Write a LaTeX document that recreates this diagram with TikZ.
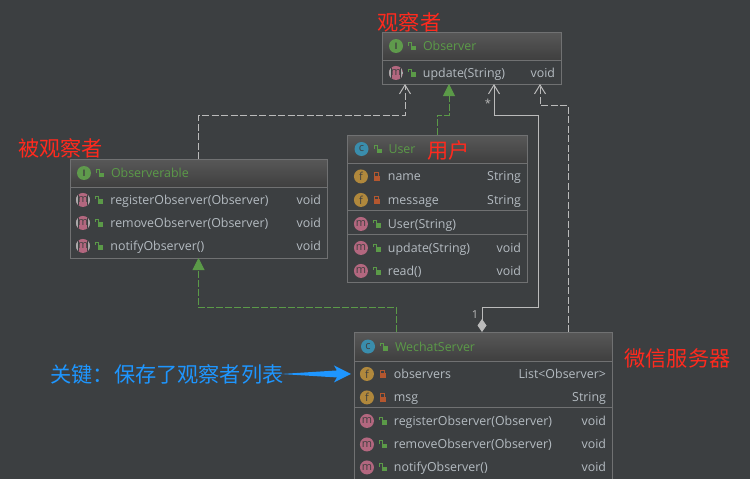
\documentclass[tikz,border=0pt]{standalone}
\usepackage{fontspec}
\setmainfont{Open Sans}
\newfontfamily\cjk{Noto Sans CJK SC}
\usetikzlibrary{arrows.meta,positioning}

\definecolor{ide_bg}{HTML}{3C3F41}
\definecolor{ide_line}{HTML}{707172}
\definecolor{ide_top}{HTML}{585858}
\definecolor{ide_low}{HTML}{3F3F3F}
\definecolor{ide_text}{HTML}{B4BBC1}
\definecolor{ide_green}{HTML}{5B9A48}
\definecolor{ide_arrow}{HTML}{BBBBBB}
\definecolor{lock_red}{HTML}{B4572F}
\definecolor{icon_m}{HTML}{B3677F}
\definecolor{icon_f}{HTML}{B0883C}
\definecolor{icon_c}{HTML}{3A8DAC}
\definecolor{icon_i}{HTML}{5F9A4C}
\definecolor{note_red}{HTML}{FF2A1E}
\definecolor{note_blue}{HTML}{1E96FF}

\tikzset{
  lock_open/.pic={
    \fill[ide_green] (-1,-0.5) rectangle (4,4);
    \draw[ide_green, line width = 1pt] (-0.5,-0.5) -- (-0.5,-3.5) -- (-3.5,-3.5) -- (-3.5,-0.5);
  },
  lock_shut/.pic={
    \fill[lock_red] (-3,-0.5) rectangle (3,4.5);
    \draw[lock_red, line width = 1pt] (-2,-0.5) -- (-2,-3.5) -- (2,-3.5) -- (2,-0.5);
  }
}

\begin{document}
\begin{tikzpicture}[x = 1pt, y = -1pt, every node/.style = {outer sep = 0pt}]

\tikzstyle{class_box} = [rectangle, draw = ide_line, line width = 1pt, fill = ide_bg, anchor = north west]
\tikzstyle{class_head} = [rectangle, draw = ide_line, line width = 1pt, top color = ide_top, bottom color = ide_low, anchor = north, inner sep = 0pt]
\tikzstyle{class_line} = [draw = ide_line, line width = 1pt]
\tikzstyle{icon} = [circle, minimum size = 14pt, inner sep = 0pt, text = black!75, font = \fontsize{11pt}{11pt}\selectfont]
\tikzstyle{icon_mm} = [icon, fill = icon_m]
\tikzstyle{icon_ab} = [icon, fill = icon_m, path picture = {
  \fill[ide_line!60!white] (path picture bounding box.south west) rectangle ([xshift = 2pt]path picture bounding box.north west);
  \fill[ide_line!60!white] (path picture bounding box.south east) rectangle ([xshift = -2pt]path picture bounding box.north east);
  \fill[ide_bg] ([xshift = 2pt]path picture bounding box.south west) rectangle ([xshift = 3pt]path picture bounding box.north west);
  \fill[ide_bg] ([xshift = -2pt]path picture bounding box.south east) rectangle ([xshift = -3pt]path picture bounding box.north east);
}]
\tikzstyle{icon_ff} = [icon, fill = icon_f]
\tikzstyle{icon_cc} = [icon, fill = icon_c]
\tikzstyle{icon_ii} = [icon, fill = icon_i]
\tikzstyle{member} = [inner sep = 0pt, text height = 12pt, text depth = 3pt, text = ide_text, font = \fontsize{12.4pt}{13pt}\selectfont]
\tikzstyle{title} = [member, text = ide_green]
\tikzstyle{note} = [inner sep = 0pt, text = note_red, font = \cjk\fontsize{21.2pt}{22pt}\selectfont]
\tikzstyle{mult} = [inner sep = 0pt, text = ide_arrow, font = \fontsize{11pt}{11pt}\selectfont]
\tikzstyle{assoc_line} = [draw = ide_arrow, line width = 1pt]
\tikzstyle{dep_line} = [draw = ide_arrow, line width = 1pt, dash pattern = on 7pt off 2.5pt, -{Straight Barb[length = 9pt, width = 11pt]}]
\tikzstyle{impl_line} = [draw = ide_green, line width = 1pt, dash pattern = on 7pt off 2pt, -{Triangle[length = 12pt, width = 12pt, fill = ide_green]}]

\useasboundingbox (0,0) rectangle (750,479);
\clip (0,0) rectangle (750,479);
\fill[ide_bg] (0,0) rectangle (750,479);

% observer
\node [class_box, minimum width = 179pt, minimum height = 52pt] (observer) at (382,32) {};
\node [class_head, minimum width = 179pt, minimum height = 28pt] (observer_head) at (observer.north) {};
\node [icon_ii, font = \bfseries\fontsize{9pt}{9pt}\selectfont, right = 7pt of observer_head.west] (observer_icon) {I};
\pic at ([xshift = 9pt]observer_icon.east) {lock_open};
\node [title, right = 20pt of observer_icon] (observer_title) {Observer};
\node [icon_ab, below right = 8pt and 9pt of observer_head.south west] (observer_m1) {m};
\pic at ([xshift = 9pt]observer_m1.east) {lock_open};
\node [member, right = 20pt of observer_m1] (observer_m1_name) {update(String)};
\node [member, anchor = east] (observer_m1_type) at ([xshift = -6pt]observer.east |- observer_m1) {void};

% observerable
\node [class_box, minimum width = 257pt, minimum height = 99pt] (observerable) at (70,159) {};
\node [class_head, minimum width = 257pt, minimum height = 28pt] (observerable_head) at (observerable.north) {};
\node [icon_ii, font = \bfseries\fontsize{9pt}{9pt}\selectfont, right = 7pt of observerable_head.west] (observerable_icon) {I};
\pic at ([xshift = 9pt]observerable_icon.east) {lock_open};
\node [title, right = 20pt of observerable_icon] (observerable_title) {Observerable};
\node [icon_ab, below right = 8pt and 8pt of observerable_head.south west] (observerable_m1) {m};
\pic at ([xshift = 9pt]observerable_m1.east) {lock_open};
\node [member, right = 20.5pt of observerable_m1] (observerable_m1_name) {registerObserver(Observer)};
\node [member, anchor = east] (observerable_m1_type) at ([xshift = -6pt]observerable.east |- observerable_m1) {void};
\node [icon_ab, below = 9pt of observerable_m1] (observerable_m2) {m};
\pic at ([xshift = 9pt]observerable_m2.east) {lock_open};
\node [member, right = 20.5pt of observerable_m2] (observerable_m2_name) {removeObserver(Observer)};
\node [member, anchor = east] (observerable_m2_type) at ([xshift = -6pt]observerable.east |- observerable_m2) {void};
\node [icon_ab, below = 9pt of observerable_m2] (observerable_m3) {m};
\pic at ([xshift = 9pt]observerable_m3.east) {lock_open};
\node [member, right = 20.5pt of observerable_m3] (observerable_m3_name) {notifyObserver()};
\node [member, anchor = east] (observerable_m3_type) at ([xshift = -6pt]observerable.east |- observerable_m3) {void};

% user
\node [class_box, minimum width = 180pt, minimum height = 147pt] (user) at (347,135) {};
\node [class_head, minimum width = 180pt, minimum height = 28pt] (user_head) at (user.north) {};
\node [icon_cc, right = 7.5pt of user_head.west] (user_icon) {c};
\pic at ([xshift = 9pt]user_icon.east) {lock_open};
\node [title, right = 20pt of user_icon] (user_title) {User};
\node [icon_ff, below right = 8.5pt and 9pt of user_head.south west] (user_f1) {f};
\pic at ([xshift = 9pt]user_f1.east) {lock_shut};
\node [member, right = 20pt of user_f1] (user_f1_name) {name};
\node [member, anchor = east] (user_f1_type) at ([xshift = -6pt]user.east |- user_f1) {String};
\node [icon_ff, below = 9.5pt of user_f1] (user_f2) {f};
\pic at ([xshift = 9pt]user_f2.east) {lock_shut};
\node [member, right = 20pt of user_f2] (user_f2_name) {message};
\node [member, anchor = east] (user_f2_type) at ([xshift = -6pt]user.east |- user_f2) {String};
\node [icon_mm, below = 10pt of user_f2] (user_m1) {m};
\pic at ([xshift = 9pt]user_m1.east) {lock_open};
\node [member, right = 20pt of user_m1] (user_m1_name) {User(String)};
\node [icon_mm, below = 10pt of user_m1] (user_m2) {m};
\pic at ([xshift = 9pt]user_m2.east) {lock_open};
\node [member, right = 20pt of user_m2] (user_m2_name) {update(String)};
\node [member, anchor = east] (user_m2_type) at ([xshift = -6pt]user.east |- user_m2) {void};
\node [icon_mm, below = 9pt of user_m2] (user_m3) {m};
\pic at ([xshift = 9pt]user_m3.east) {lock_open};
\node [member, right = 20pt of user_m3] (user_m3_name) {read()};
\node [member, anchor = east] (user_m3_type) at ([xshift = -6pt]user.east |- user_m3) {void};
\draw [class_line] ([yshift = -4pt]user_f2.south -| user.west) -- ([yshift = -4pt]user_f2.south -| user.east);
\draw [class_line] ([yshift = -4pt]user_m1.south -| user.west) -- ([yshift = -4pt]user_m1.south -| user.east);

% wechat server, its box runs off the bottom
\node [class_box, minimum width = 258pt, minimum height = 160pt] (server) at (354,332) {};
\node [class_head, minimum width = 258pt, minimum height = 29pt] (server_head) at (server.north) {};
\node [icon_cc, right = 7pt of server_head.west] (server_icon) {c};
\pic at ([xshift = 9pt]server_icon.east) {lock_open};
\node [title, right = 20pt of server_icon] (server_title) {WechatServer};
\node [icon_ff, below right = 8pt and 8pt of server_head.south west] (server_f1) {f};
\pic at ([xshift = 9pt]server_f1.east) {lock_shut};
\node [member, right = 20pt of server_f1] (server_f1_name) {observers};
\node [member, anchor = east] (server_f1_type) at ([xshift = -6pt]server.east |- server_f1) {List<Observer>};
\node [icon_ff, below = 9.5pt of server_f1] (server_f2) {f};
\pic at ([xshift = 9pt]server_f2.east) {lock_shut};
\node [member, right = 20pt of server_f2] (server_f2_name) {msg};
\node [member, anchor = east] (server_f2_type) at ([xshift = -6pt]server.east |- server_f2) {String};
\node [icon_mm, below = 9.5pt of server_f2] (server_m1) {m};
\pic at ([xshift = 9pt]server_m1.east) {lock_open};
\node [member, right = 20pt of server_m1] (server_m1_name) {registerObserver(Observer)};
\node [member, anchor = east] (server_m1_type) at ([xshift = -6pt]server.east |- server_m1) {void};
\node [icon_mm, below = 9.5pt of server_m1] (server_m2) {m};
\pic at ([xshift = 9pt]server_m2.east) {lock_open};
\node [member, right = 20pt of server_m2] (server_m2_name) {removeObserver(Observer)};
\node [member, anchor = east] (server_m2_type) at ([xshift = -6pt]server.east |- server_m2) {void};
\node [icon_mm, below = 9pt of server_m2] (server_m3) {m};
\pic at ([xshift = 9pt]server_m3.east) {lock_open};
\node [member, right = 20pt of server_m3] (server_m3_name) {notifyObserver()};
\node [member, anchor = east] (server_m3_type) at ([xshift = -6pt]server.east |- server_m3) {void};
\draw [class_line] ([yshift = -3.5pt]server_f2.south -| server.west) -- ([yshift = -3.5pt]server_f2.south -| server.east);

% notes
\node [note] (note_observer) at (409.5,22) {\cjk 观察者};
\node [note] (note_observerable) at (60.5,148) {\cjk 被观察者};
\node [note] (note_user) at (448.5,150) {\cjk 用户};
\node [note] (note_server) at (677.5,358) {\cjk 微信服务器};
\node [note, text = note_blue] (note_key) at (167,374) {\cjk 关键：保存了观察者列表};

% connectors
\draw [dep_line] (observerable.north) -- ++(0,-44) -| ([xshift = -66.5pt]observer.south);
\draw [impl_line] (user.north) -- ++(0,-20) -| ([xshift = -22.5pt]observer.south);
\draw [dep_line] ([xshift = 85pt]server.north) |- ([xshift = 68.5pt, yshift = -21pt]observer.south) -- ([xshift = 68.5pt]observer.south);
\draw [impl_line] ([xshift = -87pt]server.north) -- ++(0,-25) -| (observerable.south);
\draw [assoc_line, {Diamond[length = 13pt, width = 9pt, fill = ide_arrow]}-{Straight Barb[length = 9pt, width = 11pt]}] ([xshift = -1pt]server.north) -- ++(0,-25) -- ++(56,0) -- ++(0,-192) -| ([xshift = 22.5pt]observer.south);
\node [mult] (mult_many) at (488,103.5) {*};
\node [mult] (mult_one) at (475,315) {1};

% the blue pointer
\coordinate (key_tip) at ([xshift = -9pt]server_f1.west);
\fill [note_blue] ([xshift = -3pt]note_key.east) -- ([shift = {(-14,-3.5)}]key_tip) -- ([shift = {(-17,-8.5)}]key_tip) -- (key_tip) -- ([shift = {(-17,8.5)}]key_tip) -- ([shift = {(-14,3.5)}]key_tip) -- cycle;

\end{tikzpicture}
\end{document}
